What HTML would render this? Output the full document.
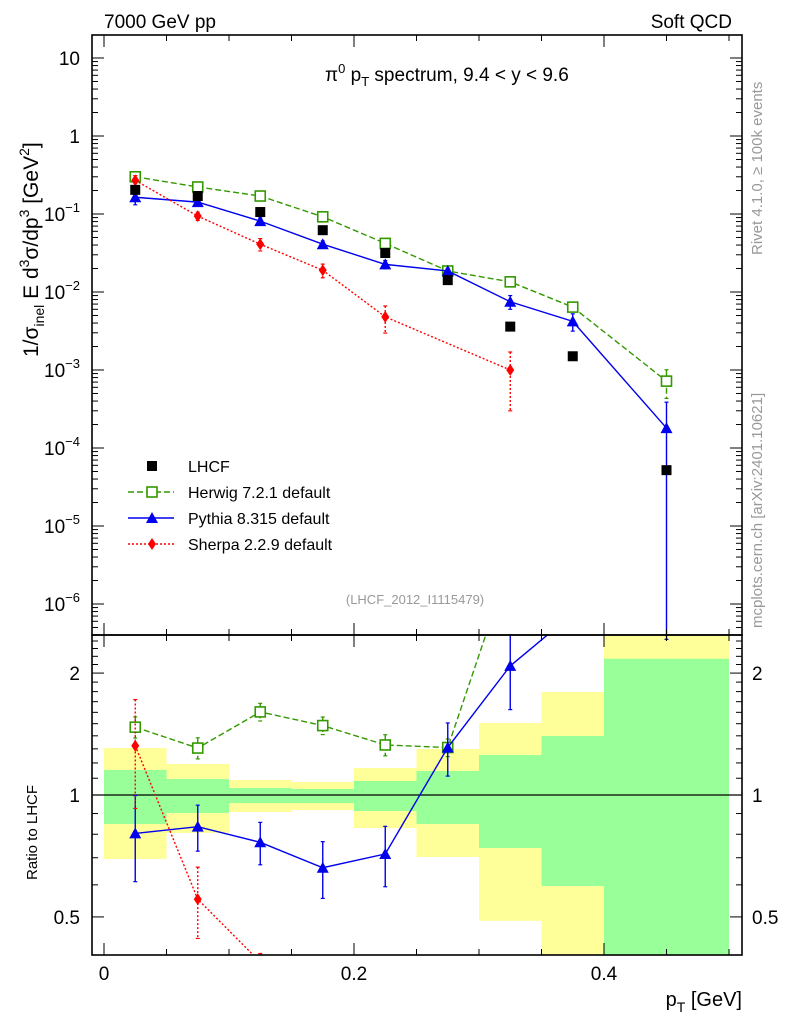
<!DOCTYPE html>
<html><head><meta charset="utf-8"><style>
html,body{margin:0;padding:0;background:#fff;overflow:hidden;width:786px;height:1024px;}
svg{display:block;font-family:"Liberation Sans",sans-serif;}
</style></head><body>
<svg id="chart" width="786" height="1024" viewBox="0 0 786 1024">
<text x="104" y="28" font-size="19">7000 GeV pp</text>
<text x="732" y="28" font-size="19" text-anchor="end">Soft QCD</text>
<text x="325" y="81" font-size="19">π<tspan dy="-8" font-size="13">0</tspan><tspan dy="8"> p</tspan><tspan dy="5" font-size="13">T</tspan><tspan dy="-5"> spectrum, 9.4 &lt; y &lt; 9.6</tspan></text>
<text x="415" y="604" font-size="13" fill="#999" text-anchor="middle">(LHCF_2012_I1115479)</text>
<text transform="translate(762,255) rotate(-90)" font-size="15" fill="#999">Rivet 4.1.0, ≥ 100k events</text>
<text transform="translate(762,628) rotate(-90)" font-size="15" fill="#999">mcplots.cern.ch [arXiv:2401.10621]</text>
<text transform="translate(38,357) rotate(-90)" font-size="21">1/σ<tspan dy="6" font-size="14">inel</tspan><tspan dy="-6"> E d</tspan><tspan dy="-9" font-size="14">3</tspan><tspan dy="9">σ/dp</tspan><tspan dy="-9" font-size="14">3</tspan><tspan dy="9"> [GeV</tspan><tspan dy="-9" font-size="14">2</tspan><tspan dy="9">]</tspan></text>
<text transform="translate(37,880) rotate(-90)" font-size="15">Ratio to LHCF</text>
<text x="742" y="1006" font-size="20" text-anchor="end">p<tspan dy="6" font-size="14">T</tspan><tspan dy="-6"> [GeV]</tspan></text>
<g id="bands"></g><g id="main"></g><g id="ratio"></g><g id="axes"></g><g id="legend"></g>
</svg>
<script>
// ---- data ----
const binLo = [0,0.05,0.1,0.15,0.2,0.25,0.3,0.35,0.4];
const binHi = [0.05,0.1,0.15,0.2,0.25,0.3,0.35,0.4,0.5];
const pt = [0.025,0.075,0.125,0.175,0.225,0.275,0.325,0.375,0.45];
const lhcf = [0.204,0.17,0.106,0.062,0.0316,0.0142,0.0036,0.0015,5.2e-5];
const herwig = [0.30,0.222,0.17,0.092,0.042,0.0186,0.0135,0.0064,7.2e-4];
const herwigErr = [0.05,0.05,0.05,0.05,0.06,0.06,0.06,0.08,0.4];
const pythia = [0.164,0.142,0.081,0.041,0.0226,0.0186,0.0075,0.0042,1.8e-4];
const pythiaErr = [0.2,0.1,0.1,0.1,0.12,0.08,0.2,0.25,1.15];
const sherpaPt = [0.025,0.075,0.125,0.175,0.225,0.325];
const sherpa = [0.27,0.094,0.041,0.019,0.0048,0.001];
const sherpaErr = [0.15,0.12,0.18,0.2,0.38,0.7];
const herwigRatioErr = [0.06,0.06,0.05,0.05,0.06,0.05,0.06,0.08,0.4];
const pythiaRatioErr = [0.24,0.13,0.12,0.16,0.17,0.15,0.22,0.08,0.3];
const sherpaRatioErr = [0.3,0.2,0.05,0.05,0.05,0.05];
const yellowHi = [1.306,1.193,1.089,1.077,1.166,1.299,1.506,1.796,3.0];
const yellowLo = [0.695,0.806,0.908,0.918,0.829,0.703,0.489,0.30,0.30];
const greenHi = [1.153,1.095,1.041,1.035,1.083,1.146,1.255,1.399,2.17];
const greenLo = [0.848,0.903,0.955,0.955,0.913,0.848,0.740,0.596,0.30];
const xTicks = [0,0.2,0.4];
const xTickLabels = ["0","0.2","0.4"];
const yExps = [1,0,-1,-2,-3,-4,-5,-6];
const ratioTicks = [2,1,0.5];
const ratioTickLabels = ["2","1","0.5"];
// ---- geometry ----
const L=92,R=742,T=35,MB=635,RB=955;
const X=v=>104+v*1250;
const Y=v=>136-Math.log10(v)*78;
const RY=v=>795-Math.log10(v)*405;
const NS="http://www.w3.org/2000/svg";
function mk(tag,attrs,parent){const e=document.createElementNS(NS,tag);for(const k in attrs)e.setAttribute(k,attrs[k]);parent.appendChild(e);return e;}
const svg=document.getElementById('chart');
const defs=mk('defs',{},svg);
const c1=mk('clipPath',{id:'cm'},defs);mk('rect',{x:L,y:T,width:R-L,height:MB-T},c1);
const c2=mk('clipPath',{id:'cr'},defs);mk('rect',{x:L,y:MB,width:R-L,height:RB-MB},c2);
const gB=document.getElementById('bands');gB.setAttribute('clip-path','url(#cr)');
const gM=document.getElementById('main');gM.setAttribute('clip-path','url(#cm)');
const gR=document.getElementById('ratio');gR.setAttribute('clip-path','url(#cr)');
const gA=document.getElementById('axes');
// bands
for(let i=0;i<binLo.length;i++){
  let r=mk('rect',{x:X(binLo[i]),y:RY(yellowHi[i]),width:X(binHi[i])-X(binLo[i]),height:RY(yellowLo[i])-RY(yellowHi[i]),fill:'#ffff99'},gB);
  
  
  let g=mk('rect',{x:X(binLo[i]),y:RY(greenHi[i]),width:X(binHi[i])-X(binLo[i]),height:RY(greenLo[i])-RY(greenHi[i]),fill:'#99ff99'},gB);
  
  
}
let l1=mk('line',{x1:L,x2:R,y1:RY(1),y2:RY(1),stroke:'#000','stroke-width':1.2},gB);


function marker(g,type,x,y,color){
  let e;
  if(type==='sq') e=mk('rect',{x:x-5,y:y-5,width:10,height:10,fill:'#000'},g);
  if(type==='osq') e=mk('rect',{x:x-5,y:y-5,width:10,height:10,fill:'#fff',stroke:color,'stroke-width':1.6},g);
  if(type==='tri') e=mk('polygon',{points:`${x},${y-6} ${x-6},${y+5} ${x+6},${y+5}`,fill:color},g);
  if(type==='dia') e=mk('polygon',{points:`${x},${y-6} ${x-4},${y} ${x},${y+6} ${x+4},${y}`,fill:color},g);
  return e;
}
function series(g,xs,vals,errs,color,dash,type,yf,name){
  const pts=xs.map((x,i)=>X(x)+','+yf(vals[i])).join(' ');
  let pl=mk('polyline',{points:pts,fill:'none',stroke:color,'stroke-width':1.4,'stroke-dasharray':dash},g);
  
  
  xs.forEach((x,i)=>{
    if(errs){
      const hi=vals[i]*(1+errs[i]),lo=Math.max(vals[i]*(1-errs[i]),1e-9);
      let e=mk('line',{x1:X(x),x2:X(x),y1:yf(hi),y2:yf(lo),stroke:color,'stroke-width':1.4,'stroke-dasharray':dash},g);
      
      
      mk('line',{x1:X(x)-2,x2:X(x)+2,y1:yf(hi),y2:yf(hi),stroke:color,'stroke-width':1.2},g);
      if(errs[i]<1) mk('line',{x1:X(x)-2,x2:X(x)+2,y1:yf(lo),y2:yf(lo),stroke:color,'stroke-width':1.2},g);
    }
    const m=marker(g,type,X(x),yf(vals[i]),color);
    
    
  });
}
// main
series(gM,pt,herwig,herwigErr,'#339900','6,3','osq',Y,'herwig');
series(gM,pt,pythia,pythiaErr,'#0000ee','none','tri',Y,'pythia');
series(gM,sherpaPt,sherpa,sherpaErr,'#ff0000','2,2','dia',Y,'sherpa');
pt.forEach((x,i)=>{const m=marker(gM,'sq',X(x),Y(lhcf[i]),'#000');
  
  });
// ratio
const hR=herwig.map((v,i)=>v/lhcf[i]);
const pR=pythia.map((v,i)=>v/lhcf[i]);
const sR=sherpa.map((v,i)=>v/lhcf[pt.indexOf(sherpaPt[i])]);
series(gR,pt,hR,herwigRatioErr,'#339900','6,3','osq',RY,'herwig-ratio');
series(gR,pt,pR,pythiaRatioErr,'#0000ee','none','tri',RY,'pythia-ratio');
series(gR,sherpaPt,sR,sherpaRatioErr,'#ff0000','2,2','dia',RY,'sherpa-ratio');
// frames
[[T,MB],[MB,RB]].forEach(([a,b],k)=>{let f=mk('rect',{x:L,y:a,width:R-L,height:b-a,fill:'none',stroke:'#000','stroke-width':1.6},gA);
  
  });
// x ticks
for(let k=0;k<=10;k++){
  const v=k*0.05;
  const big=k%4===0;
  const len=big?12:6;
  [T,MB].forEach(y0=>mk('line',{x1:X(v),x2:X(v),y1:y0,y2:y0+len,stroke:'#000'},gA));
  [MB,RB].forEach(y0=>mk('line',{x1:X(v),x2:X(v),y1:y0,y2:y0-len,stroke:'#000'},gA));
}
xTicks.forEach((v,i)=>{let t=mk('text',{x:X(v),y:980,'font-size':19,'text-anchor':'middle'},gA);t.textContent=xTickLabels[i];
  
  });
// y ticks main
for(let e=-7;e<=1;e++){for(let m=1;m<10;m++){const v=m*Math.pow(10,e);const y=Y(v);if(y<T||y>MB)continue;
  const len=m===1?12:6;
  mk('line',{x1:L,x2:L+len,y1:y,y2:y,stroke:'#000'},gA);mk('line',{x1:R,x2:R-len,y1:y,y2:y,stroke:'#000'},gA);}}
yExps.forEach(e=>{const y=Y(Math.pow(10,e));let t=mk('text',{x:80,y:y+7,'font-size':19,'text-anchor':'end'},gA);
  
  
  if(e===1)t.textContent='10';else if(e===0)t.textContent='1';
  else t.innerHTML='10<tspan dy="-9" font-size="13">−'+(-e)+'</tspan>';});
// ratio ticks
for(let k=4;k<=25;k++){const v=k/10;const y=RY(v);if(y<MB||y>RB)continue;
  const major=(k===5||k===10||k===20);const len=major?12:6;
  mk('line',{x1:L,x2:L+len,y1:y,y2:y,stroke:'#000'},gA);mk('line',{x1:R,x2:R-len,y1:y,y2:y,stroke:'#000'},gA);}
ratioTicks.forEach((v,i)=>{[[80,'end'],[752,'start']].forEach(([x,a])=>{let t=mk('text',{x:x,y:RY(v)+7,'font-size':19,'text-anchor':a},gA);t.textContent=ratioTickLabels[i];
  
  });});
// legend
const gL=document.getElementById('legend');
const leg=[['LHCF','sq','#000','none'],['Herwig 7.2.1 default','osq','#339900','6,3'],['Pythia 8.315 default','tri','#0000ee','none'],['Sherpa 2.2.9 default','dia','#ff0000','2,2']];
leg.forEach((d,i)=>{const y=466+i*26;const g=mk('g',{},gL);
  
  
  if(i>0)mk('line',{x1:128,x2:174,y1:y,y2:y,stroke:d[2],'stroke-width':1.4,'stroke-dasharray':d[3]},g);
  marker(g,d[1],152,y,d[2]);
  const t=mk('text',{x:188,y:y+6,'font-size':16},g);t.textContent=d[0];});
</script>
</body></html>
